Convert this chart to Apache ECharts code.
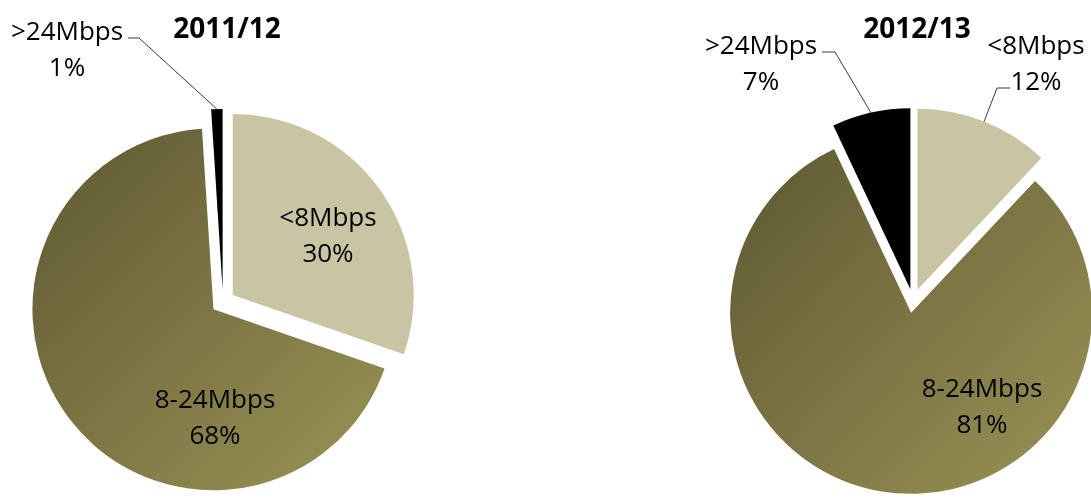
<!DOCTYPE html>
<html><head><meta charset="utf-8">
<script src="https://cdn.jsdelivr.net/npm/echarts@6/dist/echarts.min.js"></script>
<style>html,body{margin:0;padding:0;background:#fff}#c{width:1091px;height:498px}</style>
</head><body><div id="c"></div>
<script>
// ---- data ----
const categories = ['<8Mbps', '8-24Mbps', '>24Mbps'];
const years = ['2011/12', '2012/13'];
const share201112 = [30, 68, 1];
const share201213 = [12, 81, 7];
const outsideLabel = [[false, false, true], [true, false, true]];

// ---- layout / styles ----
const centers = [[223, 302], [913, 301]];
const radius = 181;
const explode = 12;
const FONT = '"Open Sans", "Liberation Sans", sans-serif';
const sliceColors = [
  '#C9C5A3',
  new echarts.graphic.LinearGradient(0, 0, 1, 1, [
    { offset: 0, color: '#5E5832' },
    { offset: 1, color: '#9A9356' }
  ]),
  '#000000'
];
// label centres and leader elbows (layout only)
const labelPlace = [
  [[328, 236.5], [215, 418.5], [67, 51]],
  [[1036, 65], [982, 407.5], [761, 65]]
];
const leaderElbows = [
  [null, null, [[139, 38], [128, 38]]],
  [[[997, 88], [1010, 88]], null, [[835, 52], [822, 52]]]
];

const seriesValues = [share201112, share201213];

function slicesSeries(si) {
  return {
    type: 'pie',
    center: centers[si],
    radius: radius,
    startAngle: 90,
    clockwise: true,
    selectedMode: 'multiple',
    selectedOffset: explode,
    animation: false,
    silent: true,
    itemStyle: { borderWidth: 0 },
    select: { itemStyle: { borderWidth: 0 } },
    label: { show: false },
    labelLine: { show: false },
    data: categories.map((name, i) => ({
      name: name,
      value: seriesValues[si][i],
      selected: true,
      itemStyle: { color: sliceColors[i] },
      select: { itemStyle: { color: sliceColors[i] } }
    }))
  };
}

function labelSeries(si) {
  const c = centers[si];
  return {
    type: 'pie',
    center: c,
    radius: radius,
    startAngle: 90,
    clockwise: true,
    selectedMode: false,
    avoidLabelOverlap: false,
    animation: false,
    silent: true,
    z: 3,
    itemStyle: { color: 'rgba(0,0,0,0)', borderWidth: 0 },
    label: {
      show: true,
      position: 'outside',
      color: '#000',
      fontFamily: FONT,
      fontSize: 26,
      lineHeight: 36,
      align: 'center',
      formatter: p => p.name + '\n' + p.value + '%'
    },
    labelLine: {
      show: true,
      smooth: false,
      lineStyle: { color: '#3a3a3a', width: 1 }
    },
    labelLayout: function (params) {
      const pos = labelPlace[si][params.dataIndex];
      const out = { x: pos[0], y: pos[1], align: 'center', verticalAlign: 'middle', hideOverlap: false };
      const elb = leaderElbows[si][params.dataIndex];
      if (elb && params.labelLinePoints) {
        const p = params.labelLinePoints[0];
        const dx = p[0] - c[0], dy = p[1] - c[1];
        const len = Math.sqrt(dx * dx + dy * dy) || 1;
        const k = (len + explode) / len;
        out.labelLinePoints = [[c[0] + dx * k, c[1] + dy * k], elb[0], elb[1]];
      }
      return out;
    },
    data: categories.map((name, i) => ({
      name: name,
      value: seriesValues[si][i],
      labelLine: { show: outsideLabel[si][i] }
    }))
  };
}

const chart = echarts.init(document.getElementById('c'), null, { renderer: 'canvas' });
chart.setOption({
  backgroundColor: '#ffffff',
  animation: false,
  title: years.map((y, i) => ({
    text: y,
    left: centers[i][0] - 1,
    top: 11,
    textAlign: 'center',
    textStyle: { fontFamily: FONT, fontWeight: 'bold', fontSize: 28, color: '#000' }
  })),
  series: [slicesSeries(0), slicesSeries(1), labelSeries(0), labelSeries(1)]
});
</script>
</body></html>
